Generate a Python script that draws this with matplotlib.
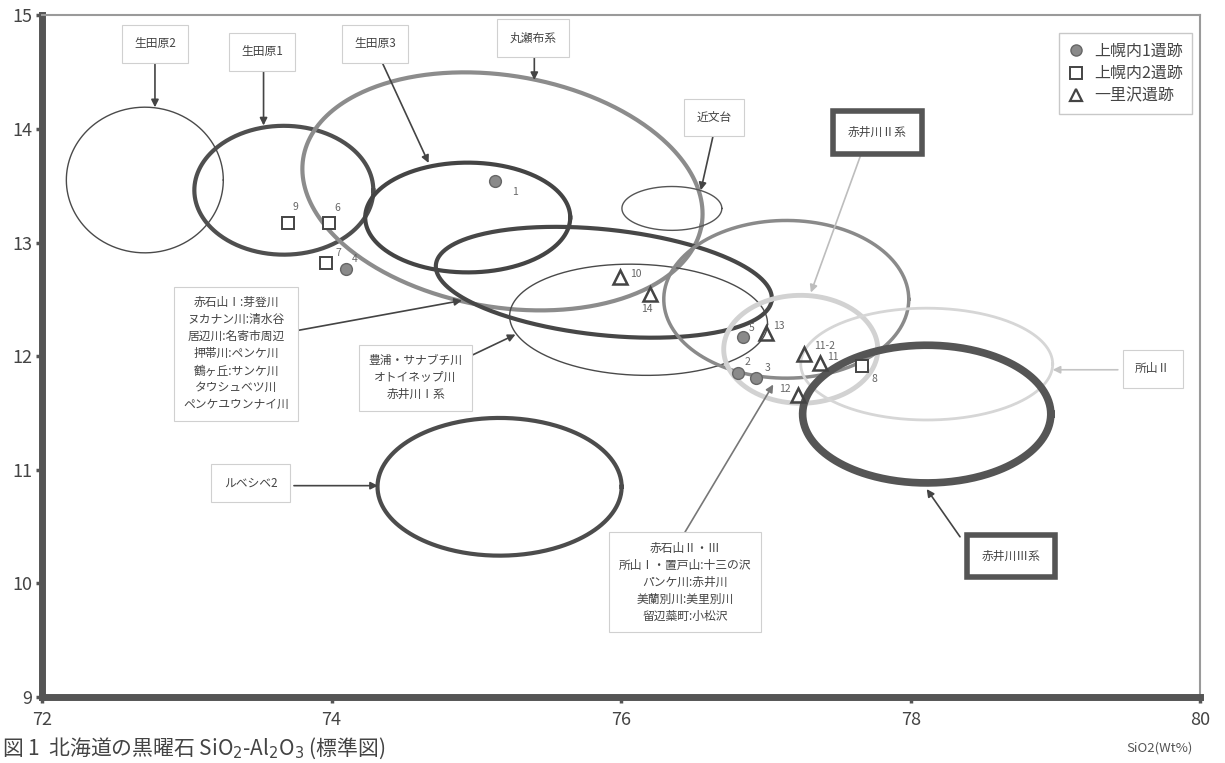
import numpy as np
import matplotlib
matplotlib.use("Agg")
from matplotlib import pyplot as plt
from matplotlib.lines import Line2D

plt.rcParams['font.family'] = ['Noto Sans CJK JP', 'DejaVu Sans']

# Sample points: SiO2 (Wt%), Al2O3 (Wt%), number label
site1_x = [75.13, 74.10, 76.84, 76.81, 76.93]
site1_y = [13.54, 12.77, 12.17, 11.85, 11.81]
site1_lab = ["1", "4", "5", "2", "3"]

site2_x = [73.70, 73.98, 73.96, 77.66]
site2_y = [13.17, 13.17, 12.82, 11.91]
site2_lab = ["9", "6", "7", "8"]

site3_x = [75.99, 76.20, 77.00, 77.26, 77.37, 77.22]
site3_y = [12.70, 12.55, 12.20, 12.02, 11.94, 11.66]
site3_lab = ["10", "14", "13", "11-2", "11", "12"]

legend_names = ["上幌内1遺跡", "上幌内2遺跡", "一里沢遺跡"]

# Source groups drawn as ellipses: centre, half-widths, tilt on page (deg)
ell_cx = [72.71, 73.67, 75.18, 74.94, 76.35, 75.88, 76.12, 77.14, 77.24, 78.11, 78.11, 75.16]
ell_cy = [13.55, 13.46, 13.45, 13.22, 13.30, 12.65, 12.32, 12.50, 12.06, 11.93, 11.49, 10.85]
ell_rx = [0.542, 0.618, 1.395, 0.708, 0.345, 1.166, 0.891, 0.846, 0.532, 0.870, 0.857, 0.843]
ell_ry = [0.641, 0.567, 1.019, 0.483, 0.193, 0.465, 0.488, 0.694, 0.475, 0.492, 0.606, 0.606]
ell_tilt = [0, 0, -9.6, 0, 0, -6, -2, 0, 0, 0, 0, 0]
ell_color = ['#4a4a4a', '#4f4f4f', '#8c8c8c', '#444444', '#555555', '#474747',
             '#4a4a4a', '#8a8a8a', '#d2d2d2', '#d6d6d6', '#555555', '#4c4c4c']
ell_lw = [1.0, 3.0, 3.0, 3.0, 1.0, 3.0, 1.0, 2.5, 3.5, 2.0, 5.5, 3.0]

# Callout labels: text, box centre, arrow start, arrow tip
lab_text = ["生田原2", "生田原1", "生田原3", "丸瀬布系", "近文台", "赤井川Ⅱ系",
            "所山Ⅱ", "赤井川Ⅲ系", "ルベシベ2",
            "赤石山Ⅰ:芽登川\nヌカナン川:清水谷\n居辺川:名寄市周辺\n押帯川:ペンケ川\n鶴ヶ丘:サンケ川\nタウシュベツ川\nペンケユウンナイ川",
            "豊浦・サナブチ川\nオトイネップ川\n赤井川Ⅰ系",
            "赤石山Ⅱ・Ⅲ\n所山Ⅰ・置戸山:十三の沢\nパンケ川:赤井川\n美蘭別川:美里別川\n留辺蘂町:小松沢"]
lab_x = [72.78, 73.52, 74.30, 75.39, 76.64, 77.77, 79.67, 78.69, 73.44, 73.34, 74.58, 76.44]
lab_y = [14.75, 14.68, 14.75, 14.80, 14.10, 13.97, 11.89, 10.24, 10.88, 12.02, 11.81, 10.01]
arr_x0 = [72.78, 73.53, 74.34, 75.40, 76.64, 77.66, 79.43, 78.34, 73.74, 73.74, 74.94, 76.44]
arr_y0 = [14.62, 14.56, 14.61, 14.67, 13.97, 13.79, 11.88, 10.41, 10.86, 12.22, 11.99, 10.45]
arr_x1 = [72.78, 73.53, 74.67, 75.40, 76.55, 77.31, 78.98, 78.11, 74.32, 74.90, 75.27, 77.05]
arr_y1 = [14.19, 14.03, 13.70, 14.43, 13.46, 12.56, 11.88, 10.83, 10.86, 12.49, 12.19, 11.75]
arr_color = ['#444444'] * 5 + ['#bdbdbd', '#c4c4c4', '#444444', '#444444', '#444444', '#444444', '#777777']
lab_thick = [False] * 5 + [True, False, True] + [False] * 4

fig = plt.figure(figsize=(12.25, 7.63), dpi=100)
ax = fig.add_axes([0.0343, 0.0865, 0.9456, 0.8935])
ax.set_xlim(72, 80)
ax.set_ylim(9, 15)

# pixel size of one data unit, used to give ellipses a tilt on the page
fw, fh = fig.get_size_inches() * fig.dpi
pos = ax.get_position()
sx = pos.width * fw / 8.0
sy = pos.height * fh / 6.0

t = np.linspace(0, 2 * np.pi, 400)
for i in range(len(ell_cx)):
	phi = np.radians(ell_tilt[i])
	u = ell_rx[i] * sx * np.cos(t)
	v = ell_ry[i] * sy * np.sin(t)
	ex = ell_cx[i] + (u * np.cos(phi) - v * np.sin(phi)) / sx
	ey = ell_cy[i] + (u * np.sin(phi) + v * np.cos(phi)) / sy
	ax.plot(ex, ey, color=ell_color[i], lw=ell_lw[i], zorder=2)

# Callouts
for i in range(len(lab_text)):
	ax.annotate("", xy=(arr_x1[i], arr_y1[i]), xytext=(arr_x0[i], arr_y0[i]),
		arrowprops=dict(arrowstyle='-|>', color=arr_color[i], lw=1.2,
			mutation_scale=11, shrinkA=0, shrinkB=0), zorder=3)
	if lab_thick[i]:
		box = dict(boxstyle='square,pad=1.25', fc='white', ec='#555555', lw=4)
	elif '\n' in lab_text[i]:
		box = dict(boxstyle='square,pad=0.8', fc='white', ec='#d0d0d0', lw=0.8)
	else:
		box = dict(boxstyle='square,pad=1.05', fc='white', ec='#d0d0d0', lw=0.8)
	ax.text(lab_x[i], lab_y[i], lab_text[i], ha='center', va='center',
		fontsize=8.5, color='#444444', linespacing=1.4, bbox=box, zorder=4)

# Sample points
ax.plot(site1_x, site1_y, 'o', ms=8.5, mfc='#8a8a8a', mec='#666666', mew=1, ls='none', zorder=5)
ax.plot(site2_x, site2_y, 's', ms=9, mfc='white', mec='#444444', mew=1.4, ls='none', zorder=5)
ax.plot(site3_x, site3_y, '^', ms=9.5, mfc='none', mec='#444444', mew=1.8, ls='none', zorder=5)

off1 = [(14, -8), (6.5, 7), (6.5, 6), (6.5, 8), (8.6, 7)]
off2 = [(5, 11.5), (6.5, 11), (9, 7), (9, -9)]
off3 = [(11.5, 2), (-2, -11), (9.5, 5), (15, 6), (9.5, 4), (-9.5, 4)]
for xs, ys, labs, offs in [(site1_x, site1_y, site1_lab, off1),
		(site2_x, site2_y, site2_lab, off2), (site3_x, site3_y, site3_lab, off3)]:
	for x, y, s, o in zip(xs, ys, labs, offs):
		ax.annotate(s, (x, y), xytext=o, textcoords='offset points',
			ha='center', va='center', fontsize=7.5, color='#666666', zorder=6)

handles = [
	Line2D([], [], marker='o', ls='none', ms=8, mfc='#8a8a8a', mec='#666666'),
	Line2D([], [], marker='s', ls='none', ms=8, mfc='white', mec='#444444', mew=1.4),
	Line2D([], [], marker='^', ls='none', ms=8, mfc='none', mec='#444444', mew=1.6),
]
leg = ax.legend(handles, legend_names, loc='upper right', bbox_to_anchor=(0.993, 0.974),
	borderaxespad=0, fontsize=11.5, frameon=True, fancybox=False, edgecolor='#bbbbbb',
	handletextpad=0.6, labelspacing=0.35, borderpad=0.6, handlelength=1.0)
for txt in leg.get_texts():
	txt.set_color('#444444')

# Axes styling
ax.spines['left'].set_linewidth(5)
ax.spines['left'].set_color('#555555')
ax.spines['bottom'].set_linewidth(5)
ax.spines['bottom'].set_color('#555555')
ax.spines['top'].set_linewidth(1.5)
ax.spines['top'].set_color('#9a9a9a')
ax.spines['right'].set_linewidth(1.5)
ax.spines['right'].set_color('#9a9a9a')
ax.set_xticks([72, 74, 76, 78, 80])
ax.set_yticks([9, 10, 11, 12, 13, 14, 15])
ax.tick_params(axis='both', length=4, width=2.5, color='#555555',
	labelsize=13, labelcolor='#444444', direction='out')
ax.tick_params(axis='x', pad=6)
ax.tick_params(axis='y', pad=3)

fig.text(1160 / 1225, 1 - 748 / 763, "SiO2(Wt%)", ha='center', va='center',
	fontsize=9.5, color='#555555')
fig.text(2 / 1225, 1 - 761 / 763, "図 1  北海道の黒曜石 SiO$_2$-Al$_2$O$_3$ (標準図)",
	ha='left', va='bottom', fontsize=15, color='#444444')

fig.savefig("out.png", dpi=100)
